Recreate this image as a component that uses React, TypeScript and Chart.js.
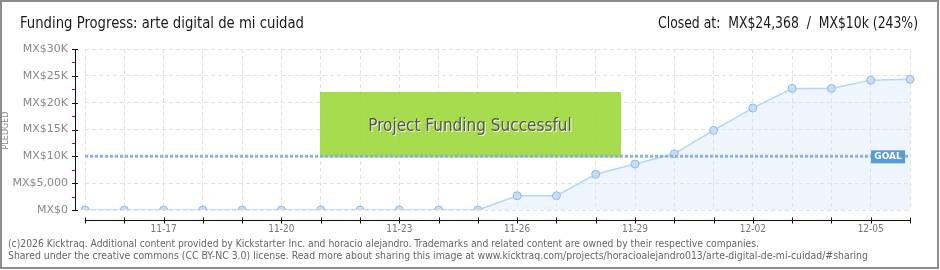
import React, { useEffect, useRef } from "react";
import { Chart, registerables } from "chart.js";

Chart.register(...registerables);

const dates = [
  "11-15", "11-16", "11-17", "11-18", "11-19", "11-20", "11-21", "11-22",
  "11-23", "11-24", "11-25", "11-26", "11-27", "11-28", "11-29", "11-30",
  "12-01", "12-02", "12-03", "12-04", "12-05", "12-06",
];
const pledged = [
  0, 0, 0, 0, 0, 0, 0, 0, 0, 0, 0,
  2660, 2660, 6650, 8570, 10480, 14840, 19000, 22660, 22660, 24200, 24368,
];
const goal = 10000;
const yMax = 30000;
const yStep = 5000;
const titleText = "Funding Progress: arte digital de mi cuidad";
const closedText = "Closed at:  MX$24,368  /  MX$10k (243%)";
const bannerText = "Project Funding Successful";
const footerLines = [
  "(c)2026 Kicktraq. Additional content provided by Kickstarter Inc. and horacio alejandro. Trademarks and related content are owned by their respective companies.",
  "Shared under the creative commons (CC BY-NC 3.0) license. Read more about sharing this image at www.kicktraq.com/projects/horacioalejandro013/arte-digital-de-mi-cuidad/#sharing",
];

const decorPlugin = {
  id: "decor",
  beforeDraw(chart: any) {
    const ctx = chart.ctx;
    ctx.save();
    ctx.fillStyle = "#ffffff";
    ctx.fillRect(0, 0, chart.width, chart.height);
    ctx.restore();
  },
  beforeDatasetsDraw(chart: any) {
    const ctx = chart.ctx;
    const y = chart.scales.y;
    const cx = chart.width / 2;
    ctx.save();
    const top = 92;
    const bottom = y.getPixelForValue(goal) + 1;
    ctx.fillStyle = "rgba(153,214,49,0.86)";
    ctx.fillRect(cx - 150, top, 301, bottom - top);
    ctx.restore();
  },
  afterDraw(chart: any) {
    const ctx = chart.ctx;
    const xs = chart.scales.x;
    const ys = chart.scales.y;
    const area = chart.chartArea;
    const W = chart.width;
    const H = chart.height;
    ctx.save();

    // frame
    ctx.strokeStyle = "#8c8c8c";
    ctx.lineWidth = 2;
    ctx.strokeRect(1, 1, W - 3, H - 3);

    // title
    ctx.fillStyle = "#1a1a1a";
    ctx.font = "15px 'DejaVu Sans Condensed', 'DejaVu Sans', sans-serif";
    ctx.textBaseline = "alphabetic";
    ctx.textAlign = "left";
    ctx.fillText(titleText, 20, 28, 284);
    ctx.textAlign = "right";
    ctx.fillText(closedText, 918, 28, 260);

    // banner text
    const cx = W / 2;
    ctx.font = "17px 'DejaVu Sans Condensed', 'DejaVu Sans', sans-serif";
    ctx.textAlign = "center";
    ctx.textBaseline = "middle";
    ctx.fillStyle = "#ffffff";
    ctx.fillText(bannerText, cx + 1, 127 + 1, 208);
    ctx.fillStyle = "#555555";
    ctx.fillText(bannerText, cx, 127, 208);

    // y axis line and ticks
    const axX = 75;
    ctx.strokeStyle = "#111";
    ctx.lineWidth = 1;
    ctx.beginPath();
    ctx.moveTo(axX + 0.5, ys.getPixelForValue(yMax));
    ctx.lineTo(axX + 0.5, ys.getPixelForValue(0) + 1);
    ctx.stroke();
    for (let v = 0; v <= yMax; v += yStep) {
      const py = Math.round(ys.getPixelForValue(v)) + 0.5;
      ctx.strokeStyle = "#111";
      ctx.beginPath();
      ctx.moveTo(axX - 3, py);
      ctx.lineTo(axX + 3, py);
      ctx.stroke();
      if (v < yMax) {
        const my = Math.round(ys.getPixelForValue(v + yStep / 2)) + 0.5;
        ctx.strokeStyle = "#e00000";
        ctx.beginPath();
        ctx.moveTo(axX - 3, my);
        ctx.lineTo(axX, my);
        ctx.stroke();
      }
    }

    // x axis line and ticks
    const axY = 220.5;
    ctx.strokeStyle = "#111";
    ctx.beginPath();
    ctx.moveTo(area.left, axY);
    ctx.lineTo(area.right + 1, axY);
    ctx.stroke();
    for (let i = 0; i < dates.length; i++) {
      const px = Math.round(xs.getPixelForValue(i)) + 0.5;
      ctx.beginPath();
      ctx.moveTo(px, axY - 3);
      ctx.lineTo(px, axY + 3);
      ctx.stroke();
    }

    // PLEDGED
    ctx.save();
    ctx.translate(6, (area.top + area.bottom) / 2 + 1);
    ctx.rotate(-Math.PI / 2);
    ctx.font = "8px 'DejaVu Sans', sans-serif";
    ctx.fillStyle = "#888";
    ctx.textAlign = "center";
    ctx.textBaseline = "middle";
    ctx.fillText("PLEDGED", 0, 0, 42);
    ctx.restore();

    // GOAL label
    const gy = ys.getPixelForValue(goal);
    ctx.fillStyle = "#5b9ad8";
    ctx.fillRect(871, gy - 6, 34, 13);
    ctx.fillStyle = "#ffffff";
    ctx.font = "bold 9px 'DejaVu Sans', sans-serif";
    ctx.textAlign = "center";
    ctx.textBaseline = "middle";
    ctx.fillText("GOAL", 888, gy + 0.5);

    // footer
    ctx.fillStyle = "#666";
    ctx.font = "10.4px 'DejaVu Sans Condensed', 'DejaVu Sans', sans-serif";
    ctx.textAlign = "left";
    ctx.textBaseline = "middle";
    ctx.fillText(footerLines[0], 8, 244, 751);
    ctx.fillText(footerLines[1], 8, 256, 860);

    ctx.restore();
  },
};

export default function App() {
  const ref = useRef<HTMLCanvasElement | null>(null);
  useEffect(() => {
    document.body.style.margin = "0";
    const canvas = ref.current;
    if (!canvas) return;
    const chart = new Chart(canvas, {
      type: "line",
      data: {
        labels: dates,
        datasets: [
          {
            label: "Goal",
            data: dates.map(() => goal),
            borderColor: "rgba(135,175,225,0.95)",
            borderWidth: 3,
            borderDash: [3, 2],
            pointRadius: 0,
            fill: false,
            order: 0,
          },
          {
            label: "Pledged",
            data: pledged,
            borderColor: "#b7d6f4",
            borderWidth: 1.5,
            backgroundColor: "rgba(205,226,250,0.35)",
            fill: "origin",
            tension: 0,
            pointRadius: 4,
            pointBackgroundColor: "#c6dff8",
            pointBorderColor: "#98b7dc",
            pointBorderWidth: 1,
            order: 1,
          },
        ],
      },
      options: {
        animation: false,
        responsive: false,
        maintainAspectRatio: false,
        layout: { padding: { top: 49, right: 30, left: 0, bottom: 0 } },
        plugins: {
          legend: { display: false },
          title: { display: false },
          tooltip: { enabled: false },
        },
        scales: {
          x: {
            offset: false,
            grid: { color: "#e2e2e2", drawTicks: false, lineWidth: 1 },
            border: { display: false, dash: [4, 3] },
            ticks: {
              autoSkip: false,
              maxRotation: 0,
              minRotation: 0,
              padding: 13,
              color: "#777",
              font: { family: "'DejaVu Sans Condensed', 'DejaVu Sans', sans-serif", size: 10 },
              callback: (_v: any, i: number) => (i % 3 === 2 ? dates[i] : ""),
            },
            afterFit: (s: any) => {
              s.height = 60;
            },
          },
          y: {
            min: 0,
            max: yMax,
            grid: { color: "#e2e2e2", drawTicks: false, lineWidth: 1 },
            border: { display: false, dash: [4, 3] },
            ticks: {
              stepSize: yStep,
              padding: 17,
              color: "#888",
              font: { family: "'DejaVu Sans', sans-serif", size: 11 },
              callback: (v: any) => {
                const n = Number(v);
                if (n === 0) return "MX$0";
                if (n === 5000) return "MX$5,000";
                return "MX$" + n / 1000 + "K";
              },
            },
            afterFit: (s: any) => {
              s.width = 85;
            },
          },
        },
      },
      plugins: [decorPlugin],
    });
    return () => chart.destroy();
  }, []);
  return (
    <div style={{ position: "absolute", left: 0, top: 0, width: 940, height: 270 }}>
      <canvas ref={ref} width={940} height={270} style={{ width: 940, height: 270, display: "block" }} />
    </div>
  );
}
